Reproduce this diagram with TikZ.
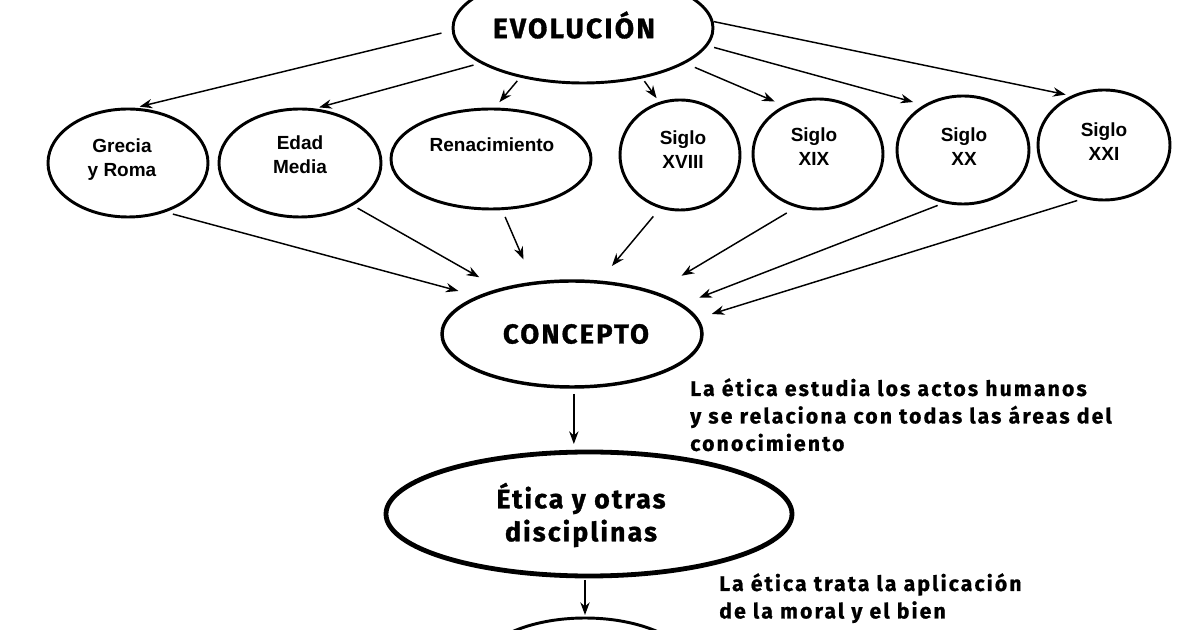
\documentclass[tikz,border=0pt]{standalone}
\usepackage{fontspec}
\setmainfont{Liberation Sans}
\newfontfamily\headfont[LetterSpace=8, BoldFeatures={FakeBold=1.2}]{Fira Sans}
\newfontfamily\bodyfont[LetterSpace=10, BoldFeatures={FakeBold=0.8}]{Fira Sans}
\usetikzlibrary{shapes.geometric,arrows.meta}
\tikzset{
  ell/.style={ellipse, draw, line width=2.2pt, inner sep=0pt, outer sep=0pt},
  sz/.style 2 args={minimum width=#1*0.75pt, minimum height=#2*0.75pt},
  lbl/.style={font=\bfseries\fontsize{14.25}{18}\selectfont, align=center, inner sep=0pt},
  head/.style={font=\headfont\bfseries\fontsize{21}{24}\selectfont, align=center, inner sep=0pt},
  body/.style={font=\bodyfont\bfseries\fontsize{15.9}{20.6}\selectfont, align=left, inner sep=0pt},
  arr/.style={line width=1.1pt, -{Stealth[length=9.5pt, width=7pt]}},
  gap/.style 2 args={shorten <=#1*0.75pt, shorten >=#2*0.75pt}
}
\begin{document}
\begin{tikzpicture}[x=0.75pt, y=-0.75pt]
\useasboundingbox (0,0) rectangle (1200,630);
% ellipses
\node[ell, sz={260}{110}] (evo) at (583,28) {};
\node[ell, sz={160}{108}] (grecia) at (128,163) {};
\node[ell, sz={162}{108}] (edad) at (300,163) {};
\node[ell, sz={200}{100}] (ren) at (491,159) {};
\node[ell, sz={120}{110}] (s18) at (680,155) {};
\node[ell, sz={130}{110}] (s19) at (818,154) {};
\node[ell, sz={132}{108}] (s20) at (963,150) {};
\node[ell, sz={132}{110}] (s21) at (1104,145) {};
\node[ell, sz={260}{106}, line width=2.6pt] (concept) at (572,334) {};
\node[ell, sz={406}{124}, line width=3.6pt] (etica) at (589,514) {};
\node[ell, sz={220}{110}] (final) at (585,673) {};
% texts
\node[head] (evot) at (574,25) {EVOLUCIÓN};
\node[lbl] (grecia-t) at (122,160) {Grecia\\y Roma};
\node[lbl] (edad-t) at (300,155) {Edad\\Media};
\node[lbl] (ren-t) at (492,145) {Renacimiento};
\node[lbl] (s18-t) at (683,150) {Siglo\\XVIII};
\node[lbl] (s19-t) at (814,147) {Siglo\\XIX};
\node[lbl] (s20-t) at (964,147) {Siglo\\XX};
\node[lbl] (s21-t) at (1104,142) {Siglo\\XXI};
\node[head, font=\headfont\bfseries\fontsize{20.5}{24}\selectfont] (concept-t) at (576,334) {CONCEPTO};
\node[head, font=\headfont\bfseries\fontsize{20}{24.75}\selectfont] (etica-t) at (581,515) {Ética y otras\\disciplinas};
\node[body, anchor=north west] (txt1) at (690,378) {La ética estudia los actos humanos\\y se relaciona con todas las áreas del\\conocimiento};
\node[body, anchor=north west] (txt2) at (719,573) {La ética trata la aplicación\\de la moral y el bien};
% arrows from EVOLUCION
\draw[arr, gap={12}{10}] (evo.181.6) -- (grecia.88);
\draw[arr, gap={9}{8}] (evo.199.2) -- (edad.78);
\draw[arr, gap={6}{9}] (evo.218.3) -- (ren.87);
\draw[arr, gap={5}{6}] (evo.320.4) -- (s18.111.6);
\draw[arr, gap={12}{12}] (evo.341.4) -- (s19.124.6);
\draw[arr, gap={8}{13}] (evo.352.2) -- (s20.130.5);
\draw[arr, gap={2}{8}] (evo.3.1) -- (s21.122);
% arrows to CONCEPTO
\draw[arr, gap={10}{22}] (grecia.306.9) -- (concept.158.6);
\draw[arr, gap={7}{25}] (edad.321.6) -- (concept.148.3);
\draw[arr, gap={9}{26}] (ren.282.4) -- (concept.127.9);
\draw[arr, gap={12}{21}] (s18.250.2) -- (concept.63.1);
\draw[arr, gap={13}{33}] (s19.249) -- (concept.27.4);
\draw[arr, gap={9}{20}] (s20.252.7) -- (concept.15.9);
\draw[arr, gap={9}{16}] (s21.251.3) -- (concept.7.3);
% vertical arrows
\draw[arr, gap={7}{8}] (concept.272) -- (concept.272 |- etica.north);
\draw[arr, gap={4}{3}] (final.north |- etica.south) -- (final.north);
\end{tikzpicture}
\end{document}
